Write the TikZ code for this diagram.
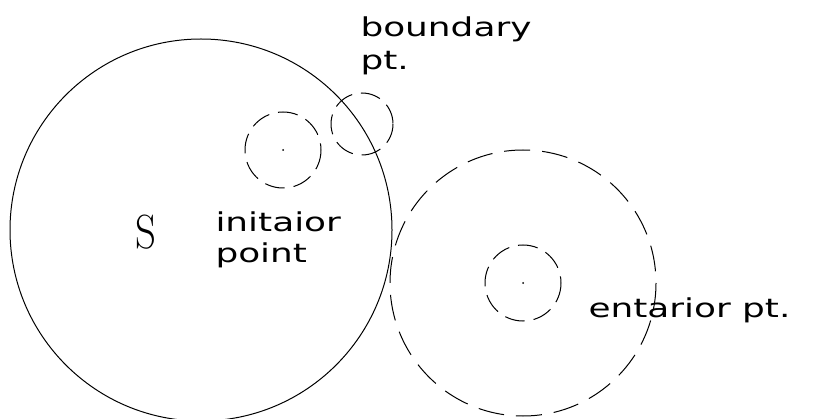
\documentclass[tikz,border=0pt]{standalone}
\usepackage{fontspec}
\usetikzlibrary{positioning}
\newfontfamily\cadfont[FakeStretch=1.38]{DejaVu Sans}
\begin{document}
\begin{tikzpicture}[x=1pt,y=-1pt,line width=1pt,
  nbhd/.style={draw,dash pattern=on 20pt off 9pt},
  lbl/.style={font=\cadfont\fontsize{26}{30}\selectfont,inner sep=0pt,anchor=base west}]
\useasboundingbox (0,0) rectangle (818,419);
\coordinate (sc) at (201,230);\coordinate (ini) at (283,150);\coordinate (bnd) at (362,124);\coordinate (ext) at (523,283);
\draw (sc) circle[radius=191];
\draw[nbhd] (ini) circle[radius=38];\fill (ini) circle[radius=1];
\draw[nbhd] (bnd) circle[radius=31];
\draw[nbhd,dash pattern=on 26pt off 12pt] (ext) circle[radius=133];
\draw[nbhd] (ext) circle[radius=38];\fill (ext) circle[radius=1];
\node[font=\fontsize{48}{50}\selectfont,inner sep=0pt,anchor=base west,xscale=.85] (s) at (135,249){S};
\node[lbl] (bndtxt) at (360,37){boundary};\node[lbl] (bndpt) at ([yshift=-33pt]bndtxt.base west){pt.};
\node[lbl] (initxt) at (215,232){initaior};\node[lbl] (inipt) at ([yshift=-31pt]initxt.base west){point};
\node[lbl] (exttxt) at (588,317){entarior pt.};
\end{tikzpicture}
\end{document}
